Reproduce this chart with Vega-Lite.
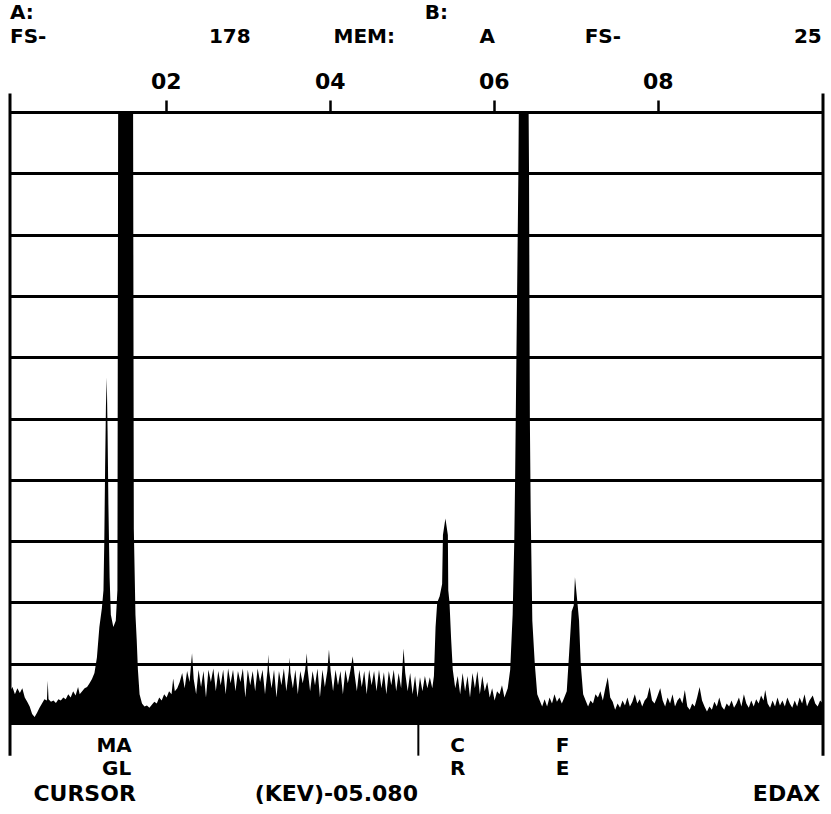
{
  "$schema": "https://vega.github.io/schema/vega-lite/v6.json",
  "width": 813,
  "height": 613,
  "autosize": "none",
  "padding": {"left": 10, "top": 112, "right": 8, "bottom": 89},
  "background": "white",
  "config": {"view": {"stroke": null}, "font": "DejaVu Sans"},
  "datasets": {
    "spectrum": [
      {"kev":0.10,"u":0.55},{"kev":0.13,"u":0.62},{"kev":0.16,"u":0.5},{"kev":0.19,"u":0.6},{"kev":0.22,"u":0.52},{"kev":0.25,"u":0.6},{"kev":0.28,"u":0.45},{"kev":0.31,"u":0.38},{"kev":0.34,"u":0.3},{"kev":0.37,"u":0.18},{"kev":0.40,"u":0.13},{"kev":0.43,"u":0.2},{"kev":0.46,"u":0.28},{"kev":0.49,"u":0.35},{"kev":0.52,"u":0.42},{"kev":0.55,"u":0.4},{"kev":0.56,"u":0.72},{"kev":0.57,"u":0.42},{"kev":0.60,"u":0.38},{"kev":0.63,"u":0.4},{"kev":0.66,"u":0.36},{"kev":0.69,"u":0.42},{"kev":0.72,"u":0.4},{"kev":0.75,"u":0.45},{"kev":0.78,"u":0.42},{"kev":0.81,"u":0.5},{"kev":0.84,"u":0.45},{"kev":0.87,"u":0.55},{"kev":0.90,"u":0.48},{"kev":0.93,"u":0.62},{"kev":0.95,"u":0.5},{"kev":0.98,"u":0.55},{"kev":1.01,"u":0.6},{"kev":1.04,"u":0.62},{"kev":1.07,"u":0.68},
      {"kev":1.10,"u":0.75},{"kev":1.13,"u":0.85},{"kev":1.16,"u":1.1},{"kev":1.19,"u":1.6},{"kev":1.22,"u":1.9},{"kev":1.24,"u":2.2},{"kev":1.25,"u":3.0},{"kev":1.26,"u":4.2},{"kev":1.27,"u":5.2},{"kev":1.28,"u":5.67},{"kev":1.29,"u":4.8},{"kev":1.30,"u":3.6},{"kev":1.315,"u":2.4},{"kev":1.33,"u":1.8},{"kev":1.36,"u":1.6},{"kev":1.39,"u":1.7},{"kev":1.41,"u":2.2},{"kev":1.42,"u":11},{"kev":1.60,"u":11},{"kev":1.61,"u":3.2},{"kev":1.63,"u":1.8},{"kev":1.645,"u":1.4},{"kev":1.66,"u":0.9},{"kev":1.68,"u":0.5},
      {"kev":1.71,"u":0.35},{"kev":1.74,"u":0.3},{"kev":1.77,"u":0.32},{"kev":1.80,"u":0.28},{"kev":1.83,"u":0.33},{"kev":1.86,"u":0.38},{"kev":1.89,"u":0.35},{"kev":1.92,"u":0.45},{"kev":1.95,"u":0.4},{"kev":1.98,"u":0.5},{"kev":2.01,"u":0.45},{"kev":2.04,"u":0.55},{"kev":2.07,"u":0.5},{"kev":2.09,"u":0.76},{"kev":2.11,"u":0.55},{"kev":2.14,"u":0.6},{"kev":2.17,"u":0.7},{"kev":2.20,"u":0.85},{"kev":2.23,"u":0.6},{"kev":2.26,"u":0.88},{"kev":2.29,"u":0.7},{"kev":2.32,"u":1.17},{"kev":2.34,"u":0.75},{"kev":2.37,"u":0.5},
      {"kev":2.40,"u":0.9},{"kev":2.43,"u":0.62},{"kev":2.46,"u":0.88},{"kev":2.49,"u":0.45},{"kev":2.52,"u":0.9},{"kev":2.55,"u":0.7},{"kev":2.58,"u":0.92},{"kev":2.61,"u":0.55},{"kev":2.64,"u":0.88},{"kev":2.67,"u":0.65},{"kev":2.70,"u":0.9},{"kev":2.73,"u":0.5},{"kev":2.76,"u":0.92},{"kev":2.79,"u":0.68},{"kev":2.82,"u":0.9},{"kev":2.85,"u":0.55},{"kev":2.88,"u":0.88},{"kev":2.91,"u":0.7},{"kev":2.94,"u":0.92},{"kev":2.97,"u":0.45},{"kev":3.00,"u":0.9},{"kev":3.03,"u":0.65},{"kev":3.06,"u":0.88},{"kev":3.09,"u":0.55},{"kev":3.12,"u":0.92},{"kev":3.15,"u":0.7},{"kev":3.18,"u":0.9},{"kev":3.21,"u":0.5},{"kev":3.24,"u":0.88},{"kev":3.25,"u":1.15},{"kev":3.26,"u":0.88},{"kev":3.29,"u":0.6},{"kev":3.32,"u":0.9},{"kev":3.35,"u":0.45},{"kev":3.38,"u":0.88},{"kev":3.41,"u":0.65},{"kev":3.44,"u":0.92},{"kev":3.47,"u":0.55},{"kev":3.50,"u":0.88},{"kev":3.51,"u":1.1},{"kev":3.52,"u":0.85},{"kev":3.55,"u":0.6},{"kev":3.58,"u":0.9},{"kev":3.61,"u":0.5},{"kev":3.64,"u":0.88},{"kev":3.67,"u":0.68},{"kev":3.70,"u":0.9},{"kev":3.72,"u":1.17},{"kev":3.73,"u":0.9},{"kev":3.76,"u":0.55},{"kev":3.79,"u":0.88},{"kev":3.82,"u":0.65},{"kev":3.85,"u":0.92},{"kev":3.88,"u":0.45},{"kev":3.91,"u":0.9},{"kev":3.94,"u":0.62},{"kev":3.97,"u":0.88},{"kev":3.99,"u":1.23},{"kev":4.01,"u":0.88},{"kev":4.04,"u":0.55},{"kev":4.07,"u":0.9},{"kev":4.10,"u":0.65},{"kev":4.13,"u":0.88},{"kev":4.16,"u":0.5},{"kev":4.19,"u":0.9},{"kev":4.22,"u":0.68},{"kev":4.25,"u":0.88},{"kev":4.28,"u":1.12},{"kev":4.30,"u":0.85},{"kev":4.33,"u":0.55},{"kev":4.36,"u":0.9},{"kev":4.39,"u":0.62},{"kev":4.42,"u":0.88},{"kev":4.45,"u":0.5},{"kev":4.48,"u":0.9},{"kev":4.51,"u":0.65},{"kev":4.54,"u":0.88},{"kev":4.57,"u":0.55},{"kev":4.60,"u":0.9},{"kev":4.63,"u":0.6},{"kev":4.66,"u":0.86},{"kev":4.69,"u":0.5},{"kev":4.72,"u":0.88},{"kev":4.75,"u":0.65},{"kev":4.78,"u":0.9},{"kev":4.81,"u":0.55},{"kev":4.84,"u":0.85},{"kev":4.87,"u":0.6},{"kev":4.90,"u":1.25},{"kev":4.92,"u":0.85},{"kev":4.95,"u":0.55},{"kev":4.98,"u":0.85},{"kev":5.01,"u":0.5},{"kev":5.04,"u":0.8},{"kev":5.07,"u":0.45},{"kev":5.10,"u":0.78},{"kev":5.13,"u":0.55},{"kev":5.16,"u":0.8},{"kev":5.19,"u":0.6},{"kev":5.22,"u":0.78},{"kev":5.25,"u":0.6},
      {"kev":5.27,"u":0.8},{"kev":5.29,"u":1.6},{"kev":5.31,"u":2.0},{"kev":5.34,"u":2.1},{"kev":5.37,"u":2.3},{"kev":5.38,"u":3.1},{"kev":5.41,"u":3.37},{"kev":5.44,"u":3.1},{"kev":5.445,"u":2.2},{"kev":5.46,"u":2.0},{"kev":5.48,"u":1.4},{"kev":5.50,"u":0.9},{"kev":5.53,"u":0.6},{"kev":5.56,"u":0.8},{"kev":5.59,"u":0.5},{"kev":5.62,"u":0.85},{"kev":5.65,"u":0.55},{"kev":5.68,"u":0.8},{"kev":5.71,"u":0.45},{"kev":5.74,"u":0.85},{"kev":5.77,"u":0.6},{"kev":5.80,"u":0.88},{"kev":5.83,"u":0.5},{"kev":5.86,"u":0.8},{"kev":5.89,"u":0.55},{"kev":5.92,"u":0.7},{"kev":5.95,"u":0.45},{"kev":5.98,"u":0.6},{"kev":6.01,"u":0.4},{"kev":6.04,"u":0.55},{"kev":6.07,"u":0.5},{"kev":6.10,"u":0.65},{"kev":6.13,"u":0.45},
      {"kev":6.17,"u":0.6},{"kev":6.20,"u":0.9},{"kev":6.22,"u":1.5},{"kev":6.23,"u":1.8},{"kev":6.25,"u":3.0},{"kev":6.26,"u":4.0},{"kev":6.28,"u":6.5},{"kev":6.30,"u":9.0},{"kev":6.31,"u":11},{"kev":6.42,"u":11},{"kev":6.43,"u":9.0},{"kev":6.44,"u":5.0},{"kev":6.45,"u":3.5},{"kev":6.47,"u":1.7},{"kev":6.50,"u":1.0},{"kev":6.53,"u":0.5},{"kev":6.56,"u":0.4},
      {"kev":6.59,"u":0.3},{"kev":6.62,"u":0.42},{"kev":6.65,"u":0.3},{"kev":6.68,"u":0.45},{"kev":6.71,"u":0.35},{"kev":6.74,"u":0.5},{"kev":6.77,"u":0.38},{"kev":6.80,"u":0.45},{"kev":6.83,"u":0.35},{"kev":6.86,"u":0.45},
      {"kev":6.89,"u":0.55},{"kev":6.92,"u":1.2},{"kev":6.95,"u":1.85},{"kev":6.975,"u":1.95},{"kev":6.99,"u":2.41},{"kev":7.02,"u":2.0},{"kev":7.04,"u":1.7},{"kev":7.06,"u":1.0},{"kev":7.09,"u":0.5},{"kev":7.12,"u":0.4},{"kev":7.15,"u":0.3},{"kev":7.18,"u":0.4},{"kev":7.21,"u":0.35},{"kev":7.24,"u":0.5},{"kev":7.27,"u":0.45},{"kev":7.30,"u":0.55},{"kev":7.33,"u":0.4},{"kev":7.36,"u":0.6},{"kev":7.39,"u":0.78},{"kev":7.42,"u":0.45},{"kev":7.45,"u":0.38},{"kev":7.48,"u":0.25},{"kev":7.51,"u":0.35},{"kev":7.54,"u":0.28},{"kev":7.57,"u":0.4},{"kev":7.60,"u":0.32},{"kev":7.63,"u":0.45},{"kev":7.66,"u":0.3},{"kev":7.69,"u":0.38},{"kev":7.72,"u":0.5},{"kev":7.75,"u":0.35},{"kev":7.78,"u":0.42},{"kev":7.81,"u":0.3},{"kev":7.84,"u":0.4},{"kev":7.87,"u":0.45},{"kev":7.90,"u":0.62},{"kev":7.93,"u":0.4},{"kev":7.96,"u":0.35},{"kev":7.99,"u":0.45},{"kev":8.03,"u":0.6},{"kev":8.06,"u":0.4},{"kev":8.09,"u":0.3},{"kev":8.12,"u":0.45},{"kev":8.15,"u":0.35},{"kev":8.18,"u":0.5},{"kev":8.21,"u":0.3},{"kev":8.24,"u":0.4},{"kev":8.27,"u":0.45},{"kev":8.30,"u":0.35},{"kev":8.33,"u":0.57},{"kev":8.36,"u":0.3},{"kev":8.39,"u":0.25},{"kev":8.42,"u":0.35},{"kev":8.45,"u":0.3},{"kev":8.48,"u":0.45},{"kev":8.51,"u":0.62},{"kev":8.54,"u":0.4},{"kev":8.57,"u":0.3},{"kev":8.60,"u":0.22},{"kev":8.63,"u":0.3},{"kev":8.66,"u":0.25},{"kev":8.69,"u":0.38},{"kev":8.72,"u":0.3},{"kev":8.75,"u":0.45},{"kev":8.78,"u":0.3},{"kev":8.81,"u":0.25},{"kev":8.84,"u":0.35},{"kev":8.87,"u":0.3},{"kev":8.90,"u":0.4},{"kev":8.93,"u":0.28},{"kev":8.96,"u":0.35},{"kev":8.99,"u":0.45},{"kev":9.02,"u":0.3},{"kev":9.05,"u":0.5},{"kev":9.08,"u":0.35},{"kev":9.11,"u":0.28},{"kev":9.14,"u":0.4},{"kev":9.17,"u":0.3},{"kev":9.20,"u":0.42},{"kev":9.23,"u":0.35},{"kev":9.26,"u":0.48},{"kev":9.29,"u":0.4},{"kev":9.31,"u":0.57},{"kev":9.34,"u":0.35},{"kev":9.37,"u":0.28},{"kev":9.40,"u":0.4},{"kev":9.43,"u":0.3},{"kev":9.46,"u":0.45},{"kev":9.49,"u":0.32},{"kev":9.52,"u":0.4},{"kev":9.55,"u":0.3},{"kev":9.58,"u":0.45},{"kev":9.61,"u":0.35},{"kev":9.64,"u":0.28},{"kev":9.67,"u":0.4},{"kev":9.70,"u":0.3},{"kev":9.73,"u":0.45},{"kev":9.76,"u":0.35},{"kev":9.79,"u":0.5},{"kev":9.82,"u":0.3},{"kev":9.85,"u":0.4},{"kev":9.89,"u":0.48},{"kev":9.92,"u":0.35},{"kev":9.95,"u":0.3},{"kev":9.98,"u":0.4},{"kev":10.015,"u":0.35}
    ],
    "edges": [
      {"kev": 0.1, "u": -0.5, "u2": 10.3},
      {"kev": 10.015, "u": -0.5, "u2": 10.3}
    ],
    "cursor": [
      {"kev": 5.08, "u": -0.5, "u2": 0.4}
    ],
    "textLeft": [
      {"kev": 0.1, "u": 11.512, "t": "A:"},
      {"kev": 0.1, "u": 11.122, "t": "FS-"}
    ],
    "textCenter": [
      {"kev": 2.78, "u": 11.122, "t": "178"},
      {"kev": 4.42, "u": 11.122, "t": "MEM:"},
      {"kev": 5.3, "u": 11.512, "t": "B:"},
      {"kev": 5.92, "u": 11.122, "t": "A"},
      {"kev": 7.33, "u": 11.122, "t": "FS-"},
      {"kev": 1.37, "u": -0.445, "t": "MA"},
      {"kev": 1.4, "u": -0.82, "t": "GL"},
      {"kev": 5.56, "u": -0.445, "t": "C"},
      {"kev": 5.56, "u": -0.82, "t": "R"},
      {"kev": 6.84, "u": -0.445, "t": "F"},
      {"kev": 6.84, "u": -0.82, "t": "E"}
    ],
    "textRight": [
      {"kev": 10.0, "u": 11.122, "t": "25"}
    ],
    "bottomCenter": [
      {"kev": 1.01, "u": -1.245, "t": "CURSOR"},
      {"kev": 4.08, "u": -1.245, "t": "(KEV)-05.080"}
    ],
    "bottomRight": [
      {"kev": 9.98, "u": -1.245, "t": "EDAX"}
    ]
  },
  "encoding": {
    "x": {
      "field": "kev", "type": "quantitative",
      "scale": {"domain": [0.1, 10.015], "nice": false, "zero": false},
      "axis": {
        "orient": "top", "values": [2, 4, 6, 8], "title": null,
        "labelExpr": "'0' + datum.value",
        "domain": false, "grid": false,
        "tickColor": "black", "tickSize": 12, "tickWidth": 2.5,
        "labelFont": "DejaVu Sans", "labelFontWeight": "bold", "labelFontSize": 22,
        "labelColor": "black", "labelPadding": 7
      }
    },
    "y": {
      "field": "u", "type": "quantitative",
      "scale": {"domain": [0, 10], "nice": false, "zero": false},
      "axis": {
        "values": [1, 2, 3, 4, 5, 6, 7, 8, 9, 10], "title": null,
        "labels": false, "ticks": false, "domain": false,
        "grid": true, "gridColor": "black", "gridWidth": 3, "gridOpacity": 1
      }
    }
  },
  "layer": [
    {
      "data": {"name": "spectrum"},
      "mark": {"type": "area", "color": "black", "fillOpacity": 1, "interpolate": "linear", "clip": true},
      "encoding": {"y": {"field": "u", "type": "quantitative", "stack": null}}
    },
    {
      "data": {"name": "edges"},
      "mark": {"type": "rule", "color": "black", "strokeWidth": 3},
      "encoding": {"y2": {"field": "u2"}}
    },
    {
      "data": {"name": "cursor"},
      "mark": {"type": "rule", "color": "black", "strokeWidth": 2},
      "encoding": {"y2": {"field": "u2"}}
    },
    {
      "data": {"name": "textLeft"},
      "mark": {"type": "text", "align": "left", "baseline": "alphabetic", "font": "DejaVu Sans", "fontWeight": "bold", "fontSize": 20, "color": "black"},
      "encoding": {"text": {"field": "t"}}
    },
    {
      "data": {"name": "textCenter"},
      "mark": {"type": "text", "align": "center", "baseline": "alphabetic", "font": "DejaVu Sans", "fontWeight": "bold", "fontSize": 20, "color": "black"},
      "encoding": {"text": {"field": "t"}}
    },
    {
      "data": {"name": "textRight"},
      "mark": {"type": "text", "align": "right", "baseline": "alphabetic", "font": "DejaVu Sans", "fontWeight": "bold", "fontSize": 20, "color": "black"},
      "encoding": {"text": {"field": "t"}}
    },
    {
      "data": {"name": "bottomCenter"},
      "mark": {"type": "text", "align": "center", "baseline": "alphabetic", "font": "DejaVu Sans", "fontWeight": "bold", "fontSize": 22, "color": "black"},
      "encoding": {"text": {"field": "t"}}
    },
    {
      "data": {"name": "bottomRight"},
      "mark": {"type": "text", "align": "right", "baseline": "alphabetic", "font": "DejaVu Sans", "fontWeight": "bold", "fontSize": 22, "color": "black"},
      "encoding": {"text": {"field": "t"}}
    }
  ]
}
